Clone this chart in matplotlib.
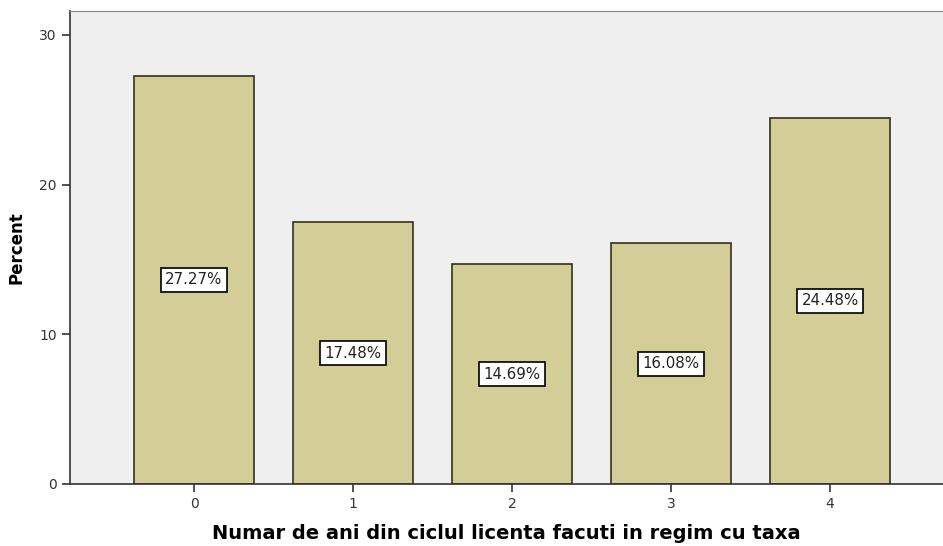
import matplotlib
matplotlib.use('Agg')
import matplotlib.pyplot as plt

categories = ['0', '1', '2', '3', '4']
percents = [27.27, 17.48, 14.69, 16.08, 24.48]
labels = ['27.27%', '17.48%', '14.69%', '16.08%', '24.48%']

plt.rcParams['font.family'] = ['DejaVu Sans']

fig = plt.figure(figsize=(9.43, 5.46), dpi=100)
ax = fig.add_axes([0.0742, 0.1136, 0.9258, 0.8664])
ax.set_facecolor('#efefef')

x = list(range(len(categories)))
ax.bar(x, percents, width=0.75, color='#d3ce97', edgecolor='#33331f', linewidth=1.2, zorder=2)

for xi, v, lab in zip(x, percents, labels):
    ax.text(xi, v / 2, lab, ha='center', va='center', fontsize=10.8, color='#222222', zorder=3,
            bbox=dict(boxstyle='square,pad=0.3', facecolor='white', edgecolor='black', linewidth=1.2))

ax.set_xlim(-0.78, 4.71)
ax.set_ylim(0, 31.6)
ax.set_xticks(x)
ax.set_xticklabels(categories)
ax.set_yticks([0, 10, 20, 30])

ax.spines['right'].set_visible(False)
ax.spines['top'].set_color('#888888')
ax.spines['left'].set_color('#333333')
ax.spines['bottom'].set_color('#333333')
ax.spines['left'].set_linewidth(1.2)
ax.spines['bottom'].set_linewidth(1.2)
ax.tick_params(axis='both', labelsize=10, colors='#333333', length=6, width=1.2)

ax.set_ylabel('Percent', fontsize=12, fontweight='bold', labelpad=10)
ax.set_xlabel('Numar de ani din ciclul licenta facuti in regim cu taxa', fontsize=14, fontweight='bold', labelpad=9)

fig.savefig('out.png', dpi=100)
